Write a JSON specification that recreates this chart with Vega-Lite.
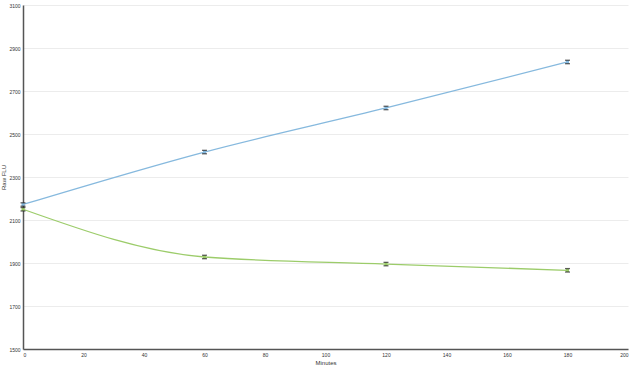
{
  "$schema": "https://vega.github.io/schema/vega-lite/v6.json",
  "autosize": "none",
  "width": 605,
  "height": 344,
  "padding": {"left": 23, "top": 5, "right": 7, "bottom": 17},
  "background": "white",
  "config": {"view": {"stroke": null}, "font": "Liberation Sans"},
  "data": {"values": [
    {"minutes": 0, "series": "A", "flu": 2172, "lo": 2164, "hi": 2180},
    {"minutes": 60, "series": "A", "flu": 2416, "lo": 2408, "hi": 2424},
    {"minutes": 120, "series": "A", "flu": 2621, "lo": 2613, "hi": 2629},
    {"minutes": 180, "series": "A", "flu": 2835, "lo": 2827, "hi": 2843},
    {"minutes": 0, "series": "B", "flu": 2150, "lo": 2142, "hi": 2158},
    {"minutes": 60, "series": "B", "flu": 1928, "lo": 1920, "hi": 1936},
    {"minutes": 120, "series": "B", "flu": 1895, "lo": 1887, "hi": 1903},
    {"minutes": 180, "series": "B", "flu": 1866, "lo": 1858, "hi": 1874}
  ]},
  "encoding": {
    "x": {"field": "minutes", "type": "quantitative", "scale": {"domain": [0, 200], "nice": false},
      "axis": {"title": "Minutes", "values": [0,20,40,60,80,100,120,140,160,180,200], "grid": false, "labelFontSize": 5, "titleFontSize": 6, "titleFontWeight": "normal", "titlePadding": 2, "domainColor": "#555", "domainWidth": 1.5, "ticks": false, "labelPadding": 3, "labelColor": "#333", "titleColor": "#333", "format": "d"}}
  },
  "layer": [
    {
      "mark": {"type": "line", "interpolate": "monotone", "strokeWidth": 1.3},
      "encoding": {
        "y": {"field": "flu", "type": "quantitative", "scale": {"domain": [1500, 3100], "nice": false},
          "axis": {"title": "Raw FLU", "values": [1500,1700,1900,2100,2300,2500,2700,2900,3100], "format": "d", "grid": true, "gridColor": "#ececec", "labelFontSize": 5, "titleFontSize": 6, "titleFontWeight": "normal", "titlePadding": 2, "domainColor": "#555", "domainWidth": 1.5, "ticks": false, "labelPadding": 3, "labelColor": "#333", "titleColor": "#333"}},
        "color": {"field": "series", "type": "nominal", "scale": {"domain": ["A", "B"], "range": ["#86b9de", "#9ccc6a"]}, "legend": null}
      }
    },
    {
      "mark": {"type": "rule", "strokeWidth": 3},
      "encoding": {
        "y": {"field": "lo", "type": "quantitative"},
        "y2": {"field": "hi"},
        "color": {"field": "series", "type": "nominal", "legend": null}
      }
    },
    {
      "mark": {"type": "tick", "orient": "horizontal", "size": 5, "thickness": 1.3, "color": "#222"},
      "encoding": {"y": {"field": "lo", "type": "quantitative"}}
    },
    {
      "mark": {"type": "tick", "orient": "horizontal", "size": 5, "thickness": 1.3, "color": "#222"},
      "encoding": {"y": {"field": "hi", "type": "quantitative"}}
    }
  ]
}
